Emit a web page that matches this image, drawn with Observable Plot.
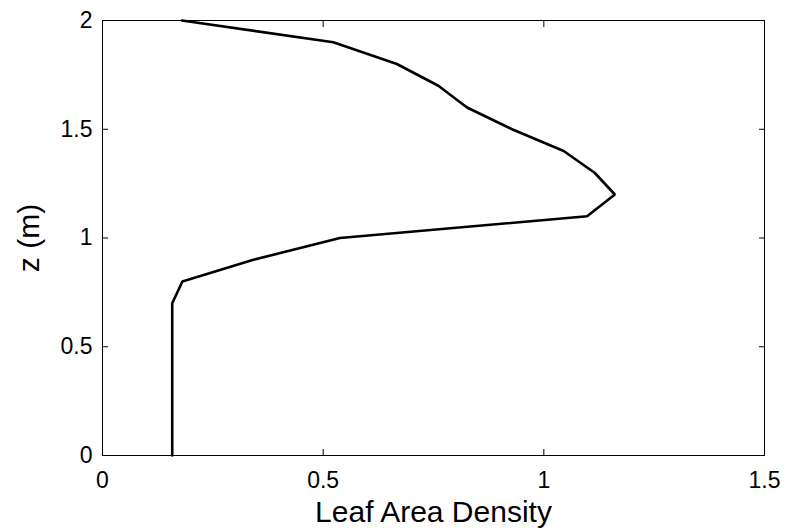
<!DOCTYPE html>
<html>
<head>
<meta charset="utf-8">
<script src="https://cdn.jsdelivr.net/npm/d3@7"></script>
<script src="https://cdn.jsdelivr.net/npm/@observablehq/plot@0.6"></script>
<style>
  body { margin: 0; background: #fff; }
  svg { font-family: "Liberation Sans", Arial, sans-serif; }
</style>
</head>
<body>
<div id="chart"></div>
<script>
// Data
const heights = [0, 0.1, 0.2, 0.3, 0.4, 0.5, 0.6, 0.7, 0.8, 0.9, 1.0, 1.1, 1.2, 1.3, 1.4, 1.5, 1.6, 1.7, 1.8, 1.9, 2.0];
const leafAreaDensity = [0.158, 0.158, 0.158, 0.158, 0.158, 0.158, 0.158, 0.158, 0.181, 0.342, 0.538, 1.098, 1.161, 1.115, 1.045, 0.928, 0.826, 0.761, 0.667, 0.523, 0.18];
const xTicks = [0, 0.5, 1, 1.5];
const yTicks = [0, 0.5, 1, 1.5, 2];
const xTitle = "Leaf Area Density";
const yTitle = "z (m)";

const data = heights.map((z, i) => ({z, lad: leafAreaDensity[i]}));
const fmt = d => String(d);

const chart = Plot.plot({
  width: 787,
  height: 530,
  marginLeft: 102,
  marginRight: 23,
  marginTop: 20,
  marginBottom: 75,
  style: {fontFamily: "'Liberation Sans', Arial, sans-serif", background: "#fff", color: "#000"},
  x: {domain: [0, 1.5], label: null},
  y: {domain: [0, 2], label: null},
  marks: [
    Plot.frame({stroke: "#000", strokeWidth: 1}),
    // inward ticks on all four sides
    Plot.axisX(xTicks, {anchor: "bottom", tickSize: -6, tickFormat: () => "", stroke: "#000"}),
    Plot.axisX(xTicks, {anchor: "top", tickSize: -6, tickFormat: () => "", stroke: "#000"}),
    Plot.axisY(yTicks, {anchor: "left", tickSize: -6, tickFormat: () => "", stroke: "#000"}),
    Plot.axisY(yTicks, {anchor: "right", tickSize: -6, tickFormat: () => "", stroke: "#000"}),
    // tick labels
    Plot.axisX(xTicks, {anchor: "bottom", tickSize: 0, tickPadding: 16, tickFormat: fmt, fontSize: 23, fill: "#000", label: null}),
    Plot.axisY(yTicks, {anchor: "left", tickSize: 0, tickPadding: 10, tickFormat: fmt, fontSize: 23, fill: "#000", label: null}),
    // axis titles
    Plot.text([xTitle], {text: d => d, frameAnchor: "bottom", textAnchor: "middle", dy: 45, lineAnchor: "top", fontSize: 30, fill: "#000"}),
    Plot.text([yTitle], {text: d => d, frameAnchor: "left", textAnchor: "middle", dx: -73, rotate: -90, lineAnchor: "middle", fontSize: 30, fill: "#000"}),
    // profile line
    Plot.line(data, {x: "lad", y: "z", stroke: "#000", strokeWidth: 2.6, strokeLinejoin: "miter", curve: "linear"})
  ]
});
document.getElementById("chart").appendChild(chart);
</script>
</body>
</html>
